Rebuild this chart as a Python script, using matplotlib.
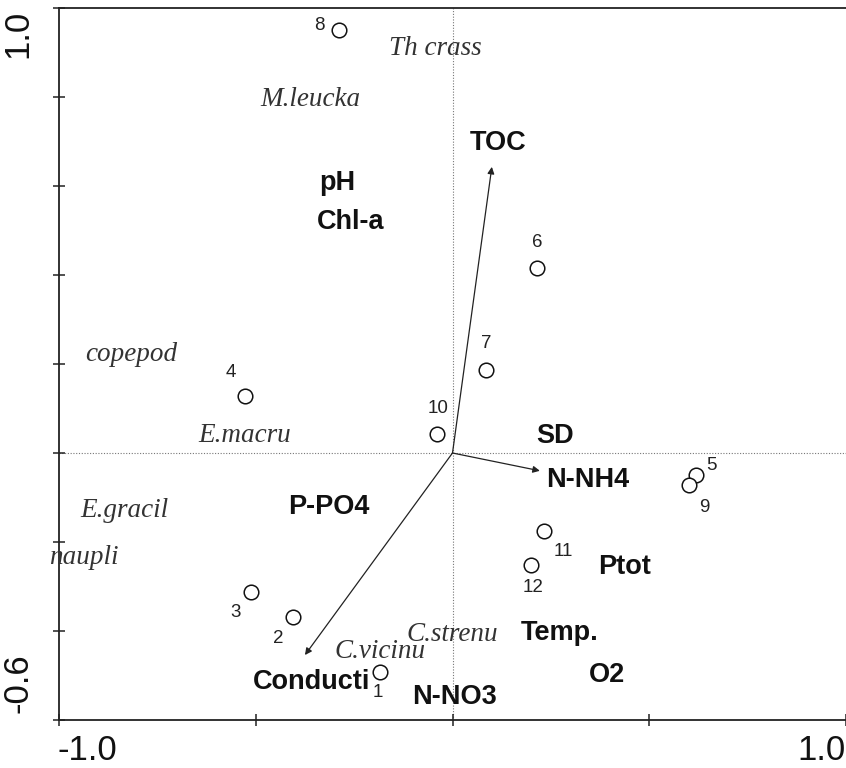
import numpy as np
import matplotlib
matplotlib.use("Agg")
import matplotlib.pyplot as plt

# sample scores (open circles) with their labels
sample_ids = ["1", "2", "3", "4", "5", "6", "7", "8", "9", "10", "11", "12"]
sample_x = [-0.184, -0.405, -0.512, -0.527, 0.619, 0.215, 0.085, -0.288, 0.601, -0.039, 0.233, 0.200]
sample_y = [-0.492, -0.369, -0.312, 0.128, -0.049, 0.416, 0.187, 0.951, -0.072, 0.043, -0.175, -0.252]

# environmental arrows
arrow_names = ["TOC", "N-NH4", "Conducti"]
arrow_x = [0.100, 0.222, -0.375]
arrow_y = [0.643, -0.040, -0.454]

# environmental variable labels
env_names = ["TOC", "pH", "Chl-a", "SD", "N-NH4", "P-PO4", "Ptot", "Temp.", "O2", "Conducti", "N-NO3"]
env_x = [0.116, -0.294, -0.260, 0.260, 0.344, -0.314, 0.438, 0.273, 0.393, -0.357, 0.006]
env_y = [0.697, 0.607, 0.519, 0.038, -0.061, -0.121, -0.256, -0.404, -0.499, -0.515, -0.548]

# species labels
species = ["Th crass", "M.leucka", "copepod", "E.macru", "E.gracil", "naupli", "C.strenu", "C.vicinu"]
species_x = [-0.044, -0.360, -0.817, -0.527, -0.835, -0.936, 0.000, -0.184]
species_y = [0.910, 0.795, 0.222, 0.040, -0.130, -0.234, -0.407, -0.445]

# where each sample number sits relative to its circle (points)
label_offsets = {
    "1": (-2, -15), "2": (-11, -15), "3": (-11, -15), "4": (-10, 17),
    "5": (11, 7), "6": (0, 18), "7": (0, 19), "8": (-14, 3),
    "9": (11, -16), "10": (1, 18), "11": (14, -15), "12": (1, -16),
}

fig = plt.figure(figsize=(8.46, 7.68), dpi=100)
ax = fig.add_axes([59 / 846, 1 - 720 / 768, 1 - 59 / 846, 712 / 768])
ax.set_xlim(-1.0, 1.0)
ax.set_ylim(-0.6, 1.0)

for side in ["left", "bottom", "top"]:
    ax.spines[side].set_linewidth(1.3)
    ax.spines[side].set_color("#222222")
ax.spines["right"].set_visible(False)

ax.set_xticks([-1.0, -0.5, 0.0, 0.5, 1.0])
ax.set_yticks(np.arange(-0.6, 1.01, 0.2))
ax.set_xticklabels([])
ax.set_yticklabels([])
ax.tick_params(direction="inout", length=9, width=1.1, color="#222222")

# axis end labels, placed inside the range like the original
ax.text(-0.052, 0.997, "1.0", transform=ax.transAxes, rotation=90, ha="center", va="top",
        fontsize=25, family="Liberation Sans", color="#111111")
ax.text(-0.052, 0.01, "-0.6", transform=ax.transAxes, rotation=90, ha="center", va="bottom",
        fontsize=25, family="Liberation Sans", color="#111111")
ax.text(-0.002, -0.02, "-1.0", transform=ax.transAxes, ha="left", va="top",
        fontsize=25, family="Liberation Sans", color="#111111", clip_on=False)
ax.text(1.0, -0.02, "1.0", transform=ax.transAxes, ha="right", va="top",
        fontsize=25, family="Liberation Sans", color="#111111", clip_on=False)

# dotted zero lines
ax.axhline(0, color="#777777", lw=0.8, ls=(0, (1, 1.5)), zorder=1)
ax.axvline(0, color="#777777", lw=0.8, ls=(0, (1, 1.5)), zorder=1)

# arrows
for name, ex, ey in zip(arrow_names, arrow_x, arrow_y):
    ax.annotate("", xy=(ex, ey), xytext=(0, 0),
                arrowprops=dict(arrowstyle="-|>", color="#222222", lw=0.9,
                                mutation_scale=10, shrinkA=0, shrinkB=0))

# samples
ax.plot(sample_x, sample_y, "o", ms=10.5, mfc="white", mec="#111111", mew=1.1, ls="none", zorder=3)
for sid, sx, sy in zip(sample_ids, sample_x, sample_y):
    dx, dy = label_offsets[sid]
    ax.annotate(sid, (sx, sy), xytext=(dx, dy), textcoords="offset points",
                ha="center", va="center", fontsize=13.5, family="Liberation Sans", color="#222222")

# environmental labels
for name, ex, ey in zip(env_names, env_x, env_y):
    ax.text(ex, ey, name, ha="center", va="center", fontsize=19.5, fontweight="bold",
            family="Liberation Sans", color="#111111")

# species labels
for name, sx, sy in zip(species, species_x, species_y):
    ax.text(sx, sy, name, ha="center", va="center", fontsize=19.5, style="italic",
            family="Liberation Serif", color="#333333", clip_on=False)

fig.savefig("out.png", dpi=100)
